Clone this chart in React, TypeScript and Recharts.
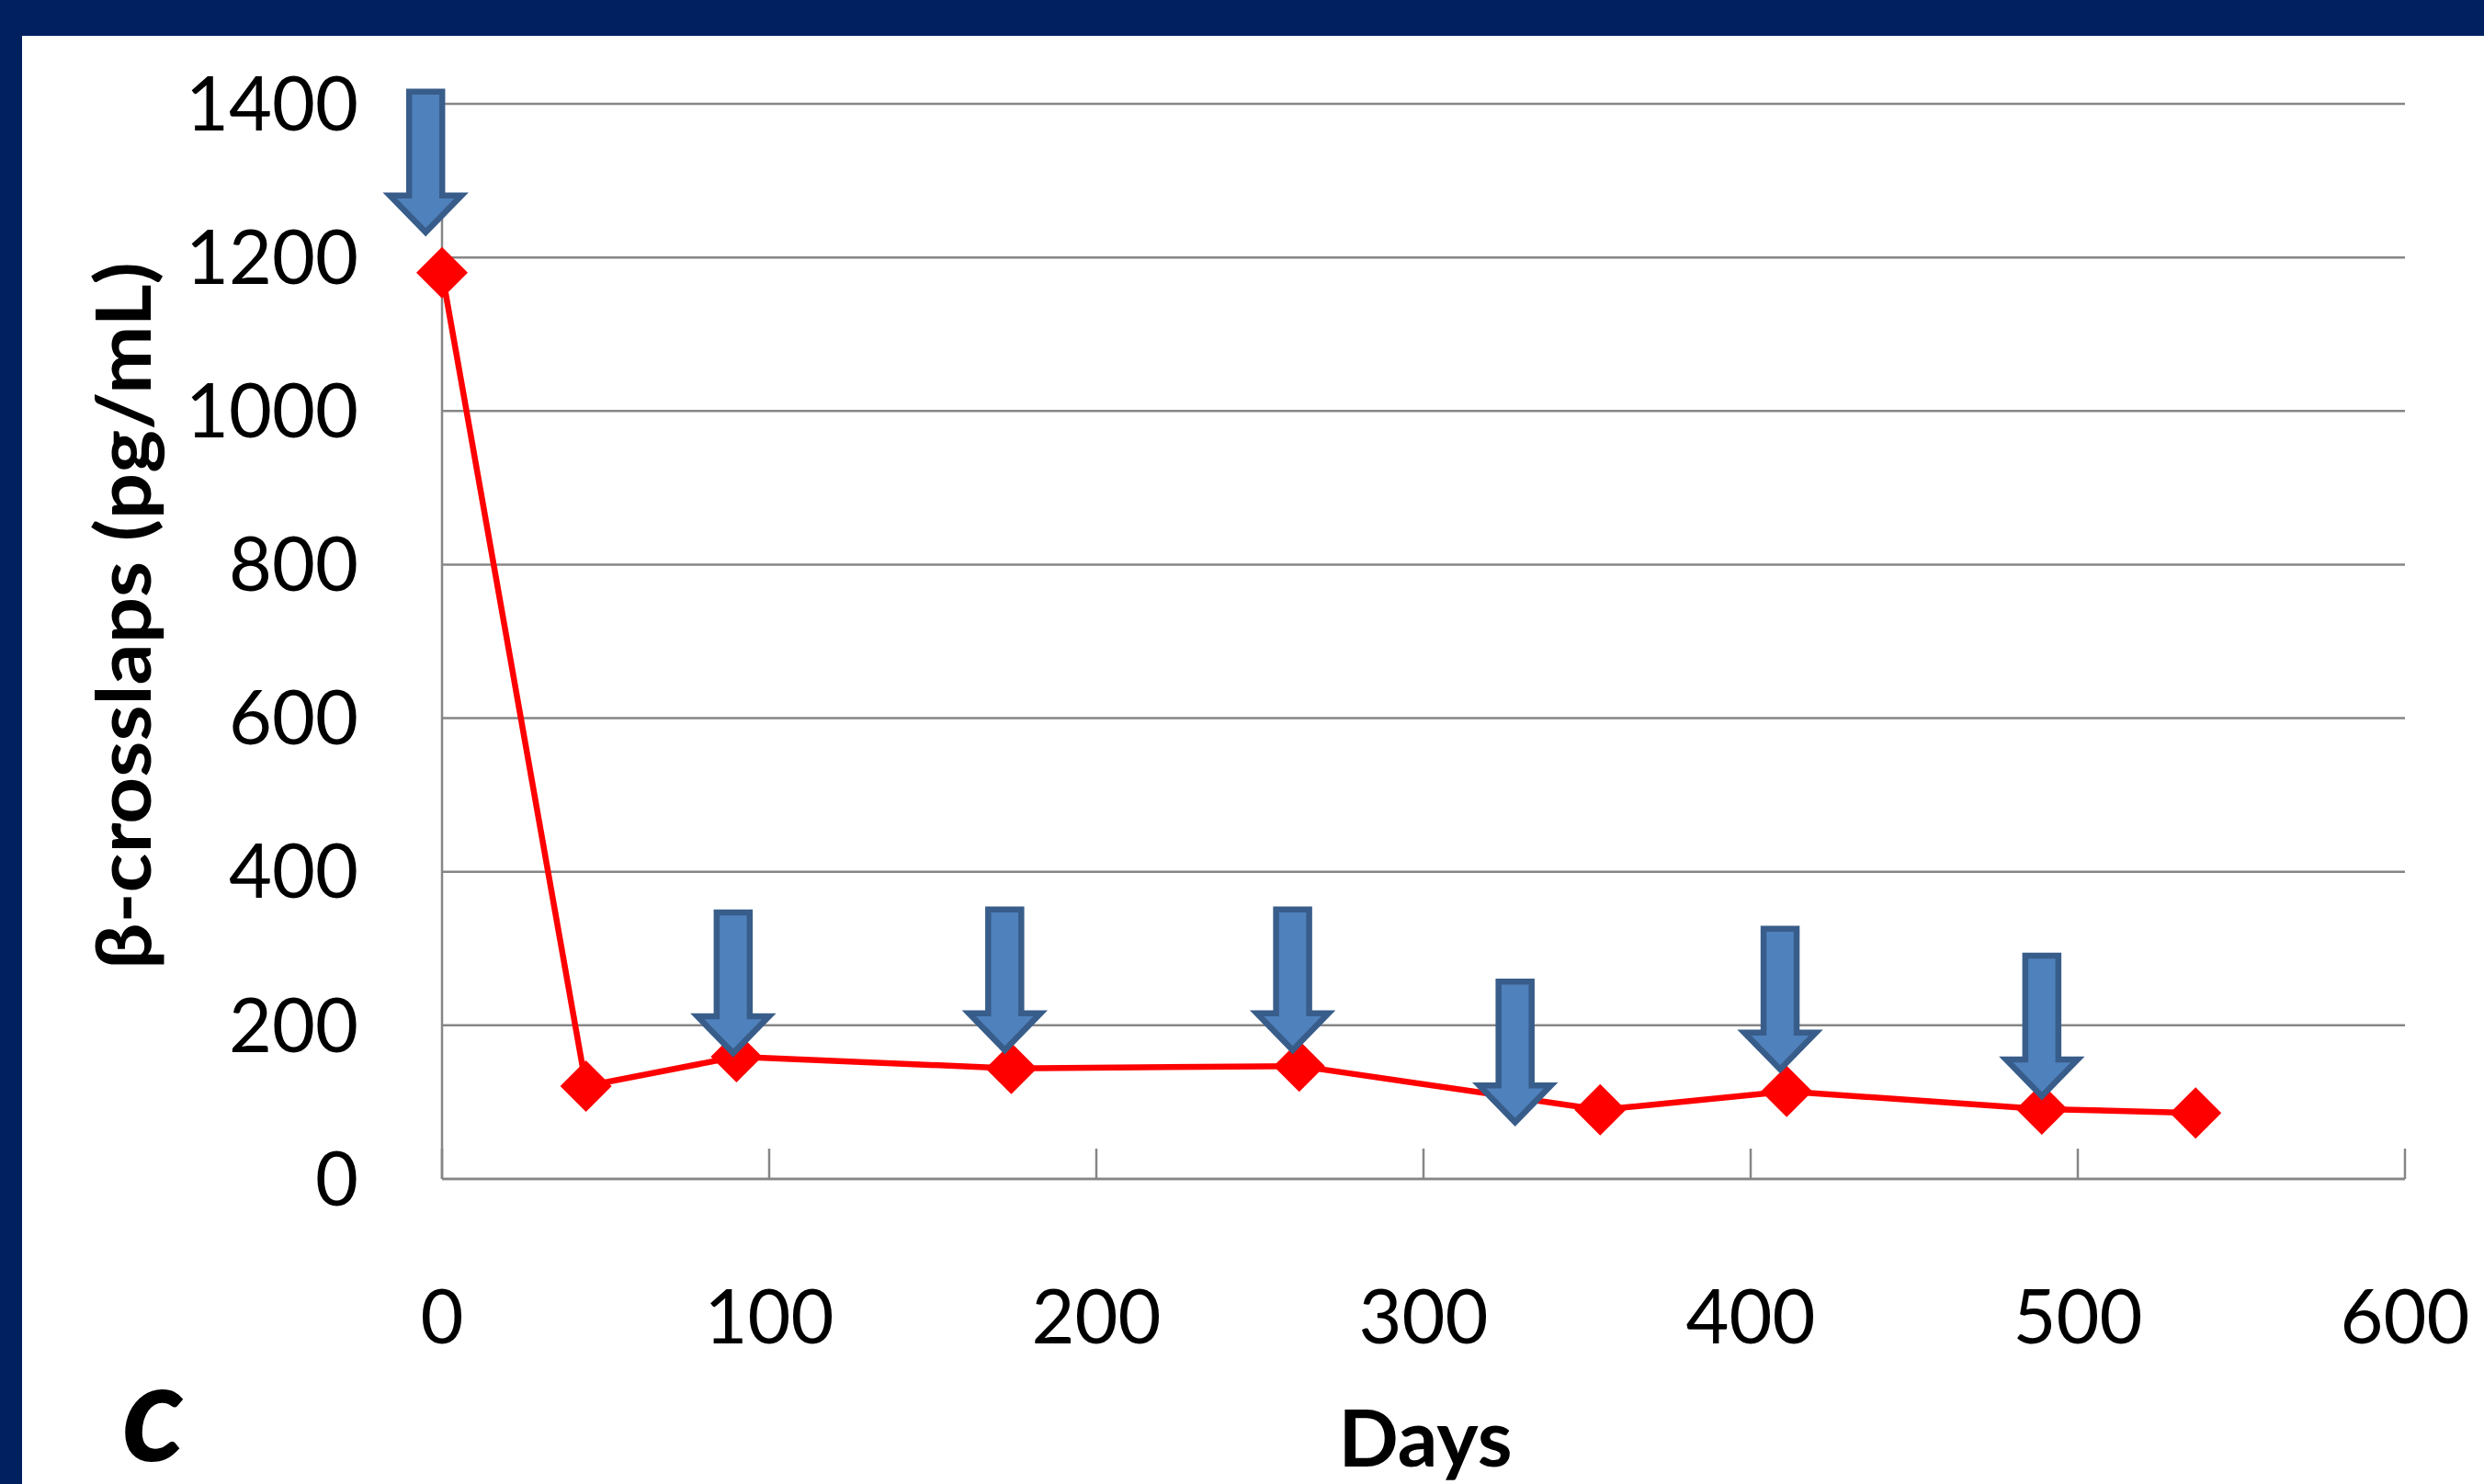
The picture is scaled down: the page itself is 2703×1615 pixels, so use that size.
import React from "react";
import { LineChart, Line, XAxis, YAxis, CartesianGrid, ReferenceDot } from "recharts";

// beta-crosslaps measurements
const days = [0, 44, 90, 174, 262, 354, 411, 489, 536];
const crosslaps = [1180, 121, 159, 144, 147, 90, 114, 91, 86];

// dosing arrows: day and the value the arrow tip points at
const arrowDays = [-5, 89, 172, 260, 328, 409, 489];
const arrowTips = [1228, 159, 163, 163, 69, 138, 103];

const xTicks = [0, 100, 200, 300, 400, 500, 600];
const yTicks = [0, 200, 400, 600, 800, 1000, 1200, 1400];

const W = 2703;
const H = 1615;
const NAVY = "#002060";
const GRID = "#868686";
const FONT = "Lato, 'Open Sans', sans-serif";

const data = days.map((d, i) => ({ day: d, value: crosslaps[i] }));

function Diamond(props: any) {
  const { cx, cy, index } = props;
  if (cx == null || cy == null) return null;
  const r = 28;
  return (
    <polygon
      key={`d-${index}`}
      points={`${cx},${cy - r} ${cx + r},${cy} ${cx},${cy + r} ${cx - r},${cy}`}
      fill="#FF0000"
    />
  );
}

function DownArrow(props: any) {
  const { cx, cy } = props;
  if (cx == null || cy == null) return null;
  const pts = [
    [cx - 18, cy - 157],
    [cx + 18, cy - 157],
    [cx + 18, cy - 44],
    [cx + 39, cy - 44],
    [cx, cy - 4],
    [cx - 39, cy - 44],
    [cx - 18, cy - 44],
  ]
    .map((p) => p.join(","))
    .join(" ");
  return <polygon points={pts} fill="#4F81BD" stroke="#385D8A" strokeWidth={6.5} />;
}

function XTick(props: any) {
  const { x, y, payload } = props;
  return (
    <g>
      <line x1={x} y1={y} x2={x} y2={y - 33} stroke={GRID} strokeWidth={2.5} />
      <text
        x={x}
        y={y + 150}
        dy="0.36em"
        textAnchor="middle"
        fontFamily={FONT}
        fontSize={81}
        fill="#000"
      >
        {payload.value}
      </text>
    </g>
  );
}

export default function App() {
  return (
    <div
      style={{
        position: "fixed",
        left: 0,
        top: 0,
        width: W,
        height: H,
        background: "#fff",
        overflow: "hidden",
        fontFamily: FONT,
      }}
    >
      <LineChart
        width={W}
        height={H}
        data={data}
        margin={{ top: 113, right: 86, left: 281, bottom: 132 }}
      >
        <CartesianGrid horizontal vertical={false} stroke={GRID} strokeWidth={2.5} />
        <XAxis
          dataKey="day"
          type="number"
          domain={[0, 600]}
          ticks={xTicks}
          height={200}
          tickSize={0}
          tickMargin={0}
          tickLine={false}
          axisLine={{ stroke: GRID, strokeWidth: 2.5 }}
          tick={<XTick />}
        />
        <YAxis
          type="number"
          domain={[0, 1400]}
          ticks={yTicks}
          width={200}
          tickSize={0}
          tickMargin={91}
          tickLine={false}
          axisLine={{ stroke: GRID, strokeWidth: 2.5 }}
          tick={{ fontFamily: FONT, fontSize: 81, fill: "#000" }}
        />
        <Line
          type="linear"
          dataKey="value"
          stroke="#FF0000"
          strokeWidth={6.5}
          dot={Diamond}
          activeDot={false}
          isAnimationActive={false}
        />
        {arrowDays.map((d, i) => (
          <ReferenceDot
            key={`a-${i}`}
            x={d}
            y={arrowTips[i]}
            r={1}
            ifOverflow="visible"
            shape={DownArrow}
          />
        ))}
      </LineChart>

      <svg
        width={W}
        height={H}
        style={{ position: "absolute", left: 0, top: 0, pointerEvents: "none" }}
      >
        <text
          transform="translate(135,670) rotate(-90)"
          textAnchor="middle"
          dy="0.35em"
          fontFamily={FONT}
          fontWeight={700}
          fontSize={82}
          textLength={770}
          lengthAdjust="spacingAndGlyphs"
          fill="#000"
        >
          β-crosslaps (pg/mL)
        </text>
        <text
          x={1551}
          y={1596}
          textAnchor="middle"
          fontFamily={FONT}
          fontWeight={700}
          fontSize={86}
          fill="#000"
        >
          Days
        </text>
        <text
          x={167}
          y={1590}
          textAnchor="middle"
          fontFamily={FONT}
          fontWeight={700}
          fontStyle="italic"
          fontSize={150}
          fill="#000"
        >
          c
        </text>
      </svg>

      <div style={{ position: "absolute", left: 0, top: 0, width: W, height: 39, background: NAVY }} />
      <div style={{ position: "absolute", left: 0, top: 0, width: 24, height: H, background: NAVY }} />
    </div>
  );
}
